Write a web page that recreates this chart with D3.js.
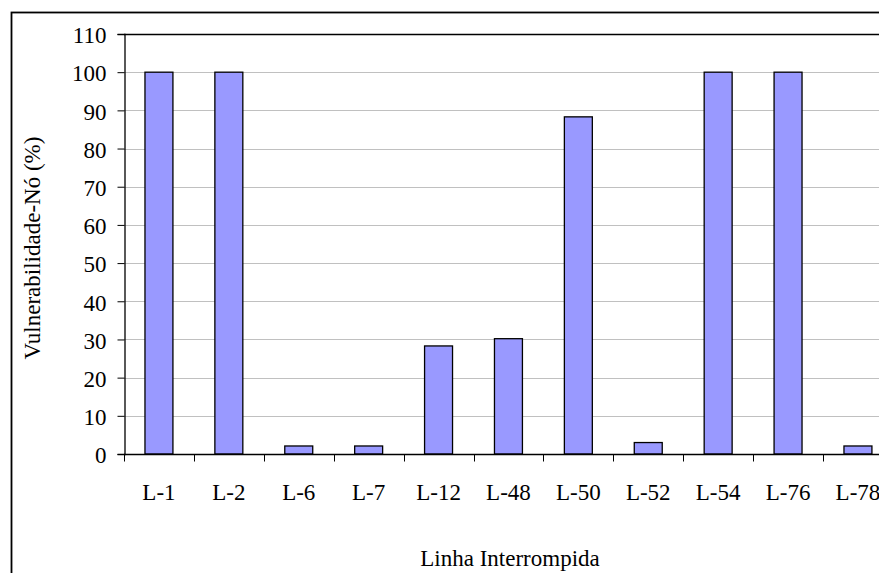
<!DOCTYPE html>
<html>
<head>
<meta charset="utf-8">
<script src="https://cdn.jsdelivr.net/npm/d3@7/dist/d3.min.js"></script>
<style>
  html, body { margin: 0; padding: 0; background: #fff; }
  svg { display: block; }
  svg text { font-family: "Liberation Serif", "Times New Roman", serif; fill: #000; }
</style>
</head>
<body>
<svg id="chart" width="879" height="573" font-family="Liberation Serif, serif"></svg>
<script>
// Interrupted line (contingency) and resulting node vulnerability (%)
const categories = ["L-1", "L-2", "L-6", "L-7", "L-12", "L-48", "L-50", "L-52", "L-54", "L-76", "L-78"];
const values = [100, 100, 2.1, 2.1, 28.3, 30.2, 88.3, 3.0, 100, 100, 2.1];
const yTicks = [0, 10, 20, 30, 40, 50, 60, 70, 80, 90, 100, 110];
const xTitle = "Linha Interrompida";
const yTitle = "Vulnerabilidade-Nó (%)";

const svg = d3.select("#chart");
const W = 879, H = 573;
const fontSize = 23;

// Plot area (extends past the right edge of the page)
const plotLeft = 124, plotTop = 34, plotBottom = 454;
const band = 69.9;
const plotRight = plotLeft + band * categories.length;

// Outer chart frame
svg.append("rect")
  .attr("x", 11.5).attr("y", 12.5)
  .attr("width", W + 20).attr("height", H + 20)
  .attr("fill", "#fff").attr("stroke", "#000").attr("stroke-width", 1.8);

const x = d3.scaleBand().domain(categories).range([plotLeft, plotRight])
  .paddingInner(0.6).paddingOuter(0.3);
const xb = d3.scaleBand().domain(categories).range([plotLeft, plotRight]);
const y = d3.scaleLinear().domain([0, 110]).range([plotBottom, plotTop]);

// Gridlines
svg.append("g").selectAll("line").data(yTicks.filter(t => t > 0 && t < 110)).join("line")
  .attr("x1", plotLeft).attr("x2", plotRight)
  .attr("y1", d => Math.round(y(d)) + 0.5).attr("y2", d => Math.round(y(d)) + 0.5)
  .attr("stroke", "#c0c0c0").attr("stroke-width", 1);

// Plot frame top
svg.append("line")
  .attr("x1", plotLeft).attr("x2", plotRight)
  .attr("y1", plotTop + 0.5).attr("y2", plotTop + 0.5)
  .attr("stroke", "#000").attr("stroke-width", 1.3);

// Bars
svg.append("g").selectAll("rect").data(categories).join("rect")
  .attr("x", (d) => x(d))
  .attr("width", x.bandwidth())
  .attr("y", (d, i) => y(values[i]))
  .attr("height", (d, i) => plotBottom - y(values[i]))
  .attr("fill", "#9999ff")
  .attr("stroke", "#000").attr("stroke-width", 1.3);

// Y axis
const yAxis = d3.axisLeft(y).tickValues(yTicks).tickSize(7).tickPadding(11)
  .tickFormat(d3.format("d"));
const gy = svg.append("g").attr("transform", `translate(${plotLeft + 0.5},0)`).call(yAxis);
gy.attr("font-family", null).attr("font-size", null);
gy.select(".domain").attr("stroke", "#000").attr("stroke-width", 1.3);
gy.selectAll(".tick line").attr("stroke", "#000");
gy.selectAll(".tick text").attr("font-size", fontSize).attr("dy", "0.38em");

// X axis with ticks at category boundaries
const gx = svg.append("g").attr("transform", `translate(0,${plotBottom + 0.5})`);
gx.append("line").attr("x1", plotLeft).attr("x2", plotRight).attr("stroke", "#000").attr("stroke-width", 1.3);
gx.selectAll(".bt").data(categories.concat([null])).join("line")
  .attr("class", "bt")
  .attr("x1", (d, i) => Math.round(plotLeft + i * xb.bandwidth()) + 0.5)
  .attr("x2", (d, i) => Math.round(plotLeft + i * xb.bandwidth()) + 0.5)
  .attr("y1", 0).attr("y2", 7)
  .attr("stroke", "#000");
gx.selectAll("text").data(categories).join("text")
  .attr("x", d => xb(d) + xb.bandwidth() / 2)
  .attr("y", 45)
  .attr("text-anchor", "middle")
  .attr("font-size", fontSize)
  .text(d => d);

// Axis titles
svg.append("text")
  .attr("x", 510).attr("y", 566)
  .attr("text-anchor", "middle").attr("font-size", fontSize)
  .text(xTitle);
svg.append("text")
  .attr("transform", "translate(40,248) rotate(-90)")
  .attr("text-anchor", "middle").attr("font-size", fontSize)
  .text(yTitle);
</script>
</body>
</html>
